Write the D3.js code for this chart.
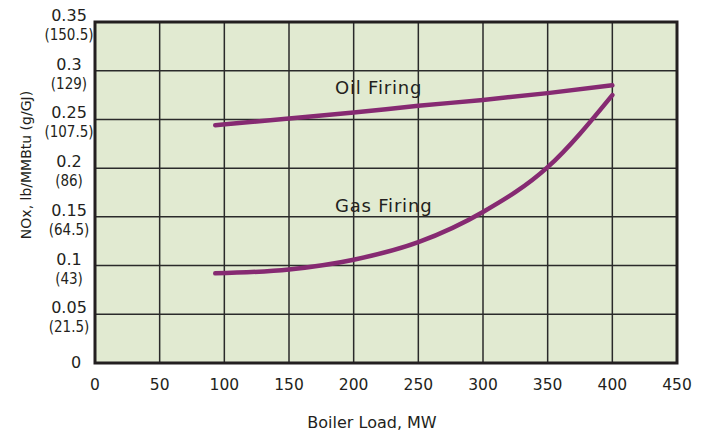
<!DOCTYPE html>
<html>
<head>
<meta charset="utf-8">
<script src="https://cdn.jsdelivr.net/npm/d3@7"></script>
<style>
  body { margin: 0; background: #fff; }
  text { font-family: "DejaVu Sans", sans-serif; fill: #231f20; }
</style>
</head>
<body>
<div id="chart"></div>
<script>
// tick values
const xTicks = [0, 50, 100, 150, 200, 250, 300, 350, 400, 450];
const yTicks = [0, 0.05, 0.1, 0.15, 0.2, 0.25, 0.3, 0.35];
const yTicksMetric = ["", "(21.5)", "(43)", "(64.5)", "(86)", "(107.5)", "(129)", "(150.5)"];

// curves: [load MW, NOx lb/MMBtu]
const oilFiring = [[93, 0.244], [150, 0.251], [200, 0.257], [250, 0.264], [300, 0.270], [350, 0.277], [400, 0.285]];
const gasFiring = [[93, 0.092], [150, 0.096], [200, 0.106], [250, 0.124], [300, 0.155], [350, 0.201], [400, 0.275]];

const width = 708;
const height = 437;
const margin = { top: 22, right: 30, bottom: 74, left: 95 };

const svg = d3.select("#chart")
  .append("svg")
  .attr("width", width)
  .attr("height", height);

const x = d3.scaleLinear()
  .domain([0, 450])
  .range([margin.left, width - margin.right - 1]);

const y = d3.scaleLinear()
  .domain([0, 0.35])
  .range([height - margin.bottom, margin.top]);

// plot background
svg.append("rect")
  .attr("x", x(0))
  .attr("y", y(0.35))
  .attr("width", x(450) - x(0))
  .attr("height", y(0) - y(0.35))
  .attr("fill", "#e1ead1");

// grid
svg.append("g")
  .selectAll("line")
  .data(xTicks.slice(1, -1))
  .enter()
  .append("line")
  .attr("x1", d => x(d)).attr("x2", d => x(d))
  .attr("y1", y(0)).attr("y2", y(0.35))
  .attr("stroke", "#2a2a2a")
  .attr("stroke-width", 1.5);

svg.append("g")
  .selectAll("line")
  .data(yTicks.slice(1, -1))
  .enter()
  .append("line")
  .attr("x1", x(0)).attr("x2", x(450))
  .attr("y1", d => y(d)).attr("y2", d => y(d))
  .attr("stroke", "#2a2a2a")
  .attr("stroke-width", 1.5);

// frame
svg.append("rect")
  .attr("x", x(0))
  .attr("y", y(0.35))
  .attr("width", x(450) - x(0))
  .attr("height", y(0) - y(0.35))
  .attr("fill", "none")
  .attr("stroke", "#231f20")
  .attr("stroke-width", 3);

// x tick labels
svg.append("g")
  .selectAll("text")
  .data(xTicks)
  .enter()
  .append("text")
  .attr("x", d => x(d))
  .attr("y", 390)
  .attr("text-anchor", "middle")
  .style("font-size", "15.5px")
  .text(d => d);

// y tick labels (lb/MMBtu with g/GJ below)
const yl = svg.append("g")
  .selectAll("g")
  .data(yTicks)
  .enter()
  .append("g");

yl.append("text")
  .attr("x", d => d === 0 ? 76 : 69)
  .attr("y", d => d === 0 ? y(d) + 5 : y(d) - 1)
  .attr("text-anchor", "middle")
  .style("font-size", "16px")
  .text(d => d);

yl.append("text")
  .attr("x", 69)
  .attr("y", d => y(d) + 18)
  .attr("text-anchor", "middle")
  .style("font-family", "'Liberation Sans Narrow', 'DejaVu Sans Condensed', sans-serif")
  .style("font-size", "15px")
  .text((d, i) => yTicksMetric[i]);

// axis titles
svg.append("text")
  .attr("x", 372)
  .attr("y", 428)
  .attr("text-anchor", "middle")
  .style("font-size", "16px")
  .text("Boiler Load, MW");

svg.append("text")
  .attr("transform", "translate(31,165) rotate(-90)")
  .attr("text-anchor", "middle")
  .style("font-size", "14px")
  .text("NOx, lb/MMBtu (g/GJ)");

// curves
const line = d3.line()
  .x(d => x(d[0]))
  .y(d => y(d[1]))
  .curve(d3.curveMonotoneX);

[oilFiring, gasFiring].forEach(s => {
  svg.append("path")
    .datum(s)
    .attr("d", line)
    .attr("fill", "none")
    .attr("stroke", "#862a72")
    .attr("stroke-width", 4.5)
    .attr("stroke-linecap", "round");
});

// curve labels
svg.append("text")
  .attr("x", 335)
  .attr("y", 94)
  .style("font-size", "18px")
  .style("letter-spacing", "0.8px")
  .text("Oil Firing");

svg.append("text")
  .attr("x", 335)
  .attr("y", 212)
  .style("font-size", "18px")
  .style("letter-spacing", "0.8px")
  .text("Gas Firing");
</script>
</body>
</html>
